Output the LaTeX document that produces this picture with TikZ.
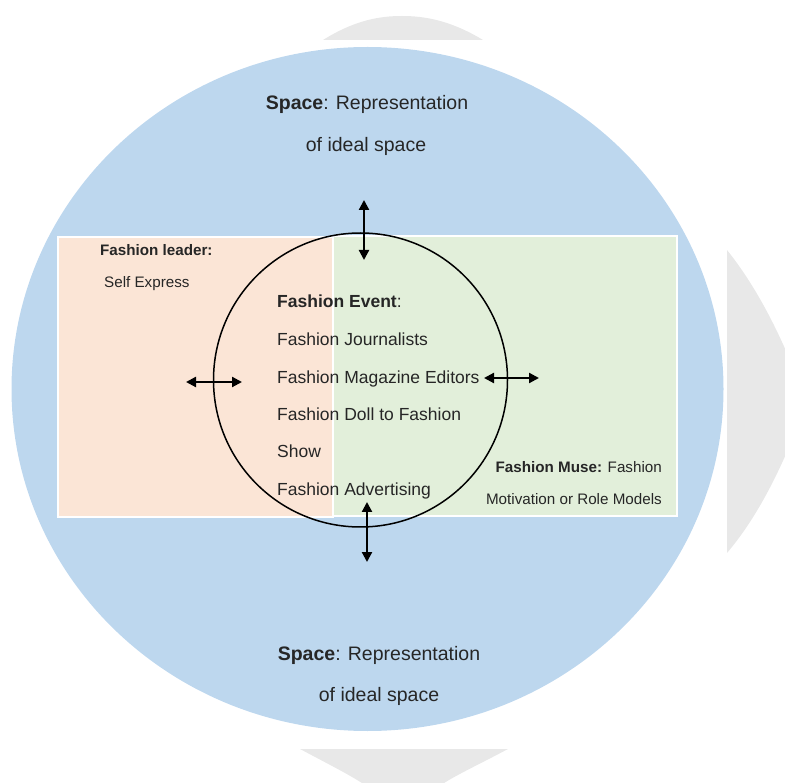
\documentclass[tikz,border=0pt]{standalone}
\usepackage{fontspec}
\setmainfont{Liberation Sans}
\usetikzlibrary{arrows.meta}
\definecolor{bgblue}{RGB}{189,215,238}
\definecolor{peach}{RGB}{251,229,214}
\definecolor{lgreen}{RGB}{226,239,218}
\definecolor{ghost}{RGB}{232,232,232}
\definecolor{txt}{RGB}{38,38,38}
\begin{document}
\begin{tikzpicture}[x=1pt,y=-1pt,
  dbl/.style={{Triangle[length=10pt,width=10pt]}-{Triangle[length=10pt,width=10pt]}, line width=2.2pt, black},
  mid/.style={inner sep=0pt, text=txt, font=\fontsize{17.5pt}{21pt}\selectfont, anchor=base west},
  big/.style={inner sep=0pt, text=txt, font=\fontsize{19.5pt}{23pt}\selectfont, anchor=base},
  small/.style={inner sep=0pt, text=txt, font=\fontsize{15.2pt}{18pt}\selectfont},
  panel/.style={draw=white, line width=1.5pt}]
\useasboundingbox (0,0) rectangle (785,783);
\clip (0,0) rectangle (785,783);
% faint background lobes
\fill[ghost] (323,40) .. controls (355,20) and (380,16) .. (402,16) .. controls (424,16) and (450,20) .. (483,40) -- cycle;
\fill[ghost] (727,250) .. controls (755,285) and (775,325) .. (790,360) -- (790,445) .. controls (775,480) and (755,520) .. (727,553) -- cycle;
\fill[ghost] (300,749) .. controls (330,765) and (350,775) .. (365,785) -- (441,785) .. controls (456,775) and (478,765) .. (508,749) -- cycle;
% space
\fill[bgblue] (367.5,389) ellipse [x radius=356, y radius=342];
% panels
\filldraw[panel, fill=peach] (58,237) rectangle (333,517);
\filldraw[panel, fill=lgreen] (333,236) rectangle (677,516);
% event circle
\draw[line width=1.5pt, black] (360.5,380) circle [radius=147];
% arrows
\coordinate (t1) at (364,200); \coordinate (t2) at (364,260);
\coordinate (b1) at (367,502); \coordinate (b2) at (367,562);
\coordinate (l1) at (186,382); \coordinate (l2) at (242,382);
\coordinate (r1) at (484,378); \coordinate (r2) at (539,378);
\draw[dbl] (t1) -- (t2);
\draw[dbl] (b1) -- (b2);
\draw[dbl] (l1) -- (l2);
\draw[dbl] (r1) -- (r2);
% texts
\node[big] (top1) at (367,110) {\textbf{Space}: Representation};
\node[big] (top2) at (366,152) {of ideal space};
\node[big] (bot1) at (379,660) {\textbf{Space}: Representation};
\node[big] (bot2) at (379,701) {of ideal space};
\node[small, anchor=base west] (lead1) at (100,256) {\textbf{Fashion leader:}};
\node[small, anchor=base west] (lead2) at (104,288) {Self Express};
\node[mid] (ev0) at (277,308) {\textbf{Fashion Event}:};
\node[mid] (ev1) at (277,346) {Fashion Journalists};
\node[mid] (ev2) at (277,384) {Fashion Magazine Editors};
\node[mid] (ev3) at (277,421) {Fashion Doll to Fashion};
\node[mid] (ev4) at (277,458) {Show};
\node[mid] (ev5) at (277,496) {Fashion Advertising};
\node[small, anchor=base east] (muse1) at (662,473) {\textbf{Fashion Muse:} Fashion};
\node[small, anchor=base east] (muse2) at (662,505) {Motivation or Role Models};
\end{tikzpicture}
\end{document}
